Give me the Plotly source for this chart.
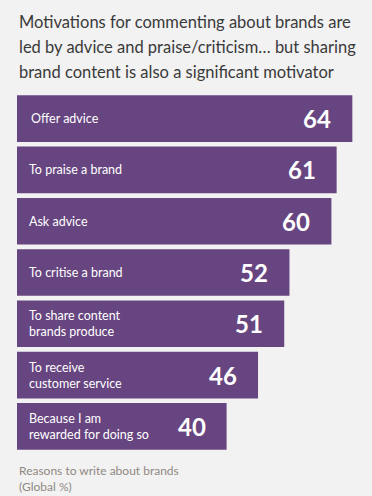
import plotly.graph_objects as go

categories = ["Offer advice", "To praise a brand", "Ask advice", "To critise a brand",
              "To share content<br>brands produce", "To receive<br>customer service",
              "Because I am<br>rewarded for doing so"]
values = [64, 61, 60, 52, 51, 46, 40]
title_lines = ["Motivations for commenting about brands are",
               "led by advice and praise/criticism\u2026 but sharing",
               "brand content is also a significant motivator"]
footer_lines = ["Reasons to write about brands", "(Global %)"]

BAR = "#674580"
BG = "#f2f2f2"
FONT = "Lato"

W, H = 372, 496
ml, mt, mb = 17, 93, 44
plot_h = H - mt - mb

def py(p):
    return (H - mb - p) / plot_h

ycat = list(range(len(categories)))

fig = go.Figure(go.Bar(
    x=values, y=ycat, orientation="h",
    marker=dict(color=BAR, line=dict(width=0)),
    hoverinfo="skip",
))

ann = []
for i, (c, v) in enumerate(zip(categories, values)):
    ann.append(dict(x=0, y=i, xref="x", yref="y", text=c, showarrow=False,
                    xanchor="left", yanchor="middle", xshift=12 if i == 0 else 10,
                    align="left",
                    font=dict(family=FONT, size=12.5, color="white")))
    ann.append(dict(x=v, y=i, xref="x", yref="y", text=f"<b>{v}</b>", showarrow=False,
                    xanchor="right", yanchor="middle", xshift=-19,
                    font=dict(family=FONT, size=24, color="white")))

for j, t in enumerate(title_lines):
    ann.append(dict(x=0, y=py(22 + 25 * j), xref="paper", yref="paper", text=t,
                    showarrow=False, xanchor="left", yanchor="middle",
                    font=dict(family=FONT, size=16.5, color="#3a3a3a")))

ann.append(dict(x=0, y=py(461), xref="paper", yref="paper", text="<br>".join(footer_lines),
                showarrow=False, xanchor="left", yanchor="top", align="left",
                font=dict(family=FONT, size=12, color="#8f8983")))

fig.update_layout(
    width=W, height=H,
    margin=dict(l=ml, r=0, t=mt, b=mb, pad=0),
    paper_bgcolor=BG, plot_bgcolor=BG,
    bargap=0.09,
    showlegend=False,
    xaxis=dict(range=[0, (W - ml) / 5.24], visible=False, fixedrange=True),
    yaxis=dict(range=[len(categories) - 0.5, -0.5], visible=False, fixedrange=True),
    annotations=ann,
)

fig.write_html("out.html", config={"displayModeBar": False},
               post_script="document.body.style.margin='0';document.body.style.overflow='hidden';")
